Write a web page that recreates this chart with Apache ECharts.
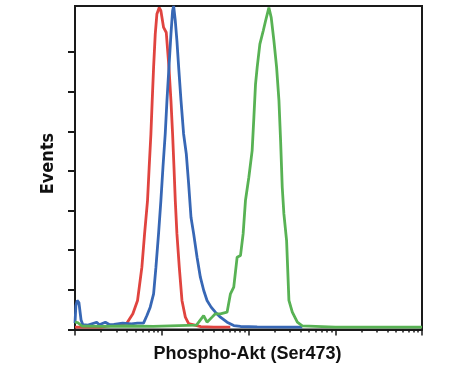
<!DOCTYPE html>
<html>
<head>
<meta charset="utf-8">
<script src="https://cdn.jsdelivr.net/npm/echarts@6/dist/echarts.min.js"></script>
<style>
html,body{margin:0;padding:0;background:#fff;}
#chart{width:451px;height:370px;}
</style>
</head>
<body>
<div id="chart"></div>
<script>
// x: log10 fluorescence (decades), y: events
var redX = [0, 0.3, 0.597, 0.667, 0.721, 0.771, 0.802, 0.836, 0.855, 0.875, 0.890, 0.906, 0.925, 0.944, 0.971, 0.990, 1.021, 1.052, 1.083, 1.106, 1.125, 1.141, 1.156, 1.175, 1.202, 1.233, 1.272, 1.310, 1.45, 1.6, 1.79];
var redY = [1.5, 1.5, 4.0, 9.9, 18.3, 39.3, 60.3, 81.3, 102.3, 123.3, 144.3, 165.3, 186.3, 198.9, 203, 201, 190.5, 187.3, 165.3, 144.3, 123.3, 102.3, 81.3, 60.3, 39.3, 18.3, 7.8, 3.7, 1.8, 1.5, 1.5];

var blueX = [0, 0.01, 0.025, 0.045, 0.07, 0.09, 0.15, 0.25, 0.28, 0.35, 0.40, 0.45, 0.55, 0.65, 0.72, 0.790, 0.829, 0.867, 0.906, 0.933, 0.963, 0.990, 1.014, 1.040, 1.060, 1.083, 1.106, 1.125, 1.137, 1.156, 1.175, 1.195, 1.222, 1.252, 1.283, 1.310, 1.337, 1.368, 1.407, 1.445, 1.484, 1.522, 1.569, 1.618, 1.676, 1.753, 1.830, 1.908, 2.1, 2.4, 2.62];
var blueY = [4, 15, 18.3, 17, 6, 3, 2.8, 4.6, 3, 4.6, 3, 3.2, 4, 3.5, 4, 4.0, 8.8, 14.1, 22.5, 39.3, 60.3, 81.3, 102.3, 123.3, 144.3, 165.3, 186.3, 201, 204, 194.7, 182, 165.3, 144.3, 123.3, 110.7, 91.8, 70.8, 60.3, 45.6, 33, 24.6, 18.3, 14.1, 10.9, 7.8, 4.6, 2.5, 1.9, 1.6, 1.5, 1.5];

var greenX = [0, 0.03, 0.08, 0.3, 0.6, 0.9, 1.2, 1.40, 1.483, 1.522, 1.58, 1.618, 1.676, 1.753, 1.792, 1.830, 1.869, 1.908, 1.938, 1.965, 2.004, 2.042, 2.062, 2.081, 2.100, 2.131, 2.170, 2.197, 2.235, 2.262, 2.293, 2.324, 2.351, 2.370, 2.389, 2.408, 2.439, 2.466, 2.505, 2.563, 2.620, 3.0, 3.5, 4.0];
var greenY = [4.6, 4.4, 2.2, 2.0, 2.2, 2.0, 2.5, 2.8, 8.8, 4.6, 7.8, 9.9, 9.9, 10.9, 22.5, 26.7, 45.6, 46.7, 60.3, 81.3, 96, 112.8, 133.8, 154.8, 165.3, 180, 188.4, 194.7, 203, 196.7, 182, 165.3, 144.3, 119.1, 89.7, 72.9, 56.1, 18.3, 10.9, 4.6, 2.3, 1.5, 1.5, 1.5];

var majorTicks = [0, 1, 2, 3, 4];
var minorTicks = [];
[0, 1, 2, 3].forEach(function (n) {
  for (var k = 2; k <= 9; k++) minorTicks.push(n + Math.log10(k));
});
var yTicks = [0, 25, 50, 75, 100, 125, 150, 175];

var xTitle = 'Phospho-Akt (Ser473)';
var yTitle = 'Events';

function pairs(xs, ys) { return xs.map(function (x, i) { return [x, ys[i]]; }); }

var axisColor = '#1a1a1a';
var chart = echarts.init(document.getElementById('chart'), null, {renderer: 'canvas'});
chart.setOption({
  animation: false,
  backgroundColor: '#ffffff',
  grid: {left: 75, top: 6, width: 347, height: 323.5, show: true, borderColor: axisColor, borderWidth: 2, backgroundColor: 'transparent'},
  xAxis: [
    {type: 'value', min: 0, max: 4, position: 'bottom',
     axisLine: {show: true, lineStyle: {color: axisColor, width: 2}},
     axisTick: {show: true, customValues: majorTicks, length: 6, lineStyle: {color: axisColor, width: 1.5}},
     axisLabel: {show: false}, splitLine: {show: false}},
    {type: 'value', min: 0, max: 4, position: 'bottom',
     axisLine: {show: false},
     axisTick: {show: true, customValues: minorTicks, length: 3, lineStyle: {color: axisColor, width: 1.5}},
     axisLabel: {show: false}, splitLine: {show: false}}
  ],
  yAxis: {type: 'value', min: 0, max: 204,
    axisLine: {show: true, lineStyle: {color: axisColor, width: 2}},
    axisTick: {show: true, customValues: yTicks, length: 7, lineStyle: {color: axisColor, width: 2}},
    axisLabel: {show: false}, splitLine: {show: false}},
  series: [
    {type: 'line', data: pairs(redX, redY), showSymbol: false, lineStyle: {color: '#e0443f', width: 2.8}, z: 2},
    {type: 'line', data: pairs(blueX, blueY), showSymbol: false, lineStyle: {color: '#3767b5', width: 2.8}, z: 3},
    {type: 'line', data: pairs(greenX, greenY), showSymbol: false, lineStyle: {color: '#58b254', width: 2.8}, z: 4}
  ],
  graphic: [
    {type: 'text', x: 247.5, y: 354, style: {text: xTitle, fill: '#111', font: 'bold 18px "Liberation Sans", Arial, sans-serif', textAlign: 'center', textVerticalAlign: 'middle'}},
    {type: 'text', x: 48, y: 163.5, rotation: Math.PI / 2, style: {text: yTitle, fill: '#111', font: 'bold 18px "Liberation Sans Narrow", "DejaVu Sans Condensed", "Liberation Sans", sans-serif', textAlign: 'center', textVerticalAlign: 'middle'}}
  ]
});
</script>
</body>
</html>
